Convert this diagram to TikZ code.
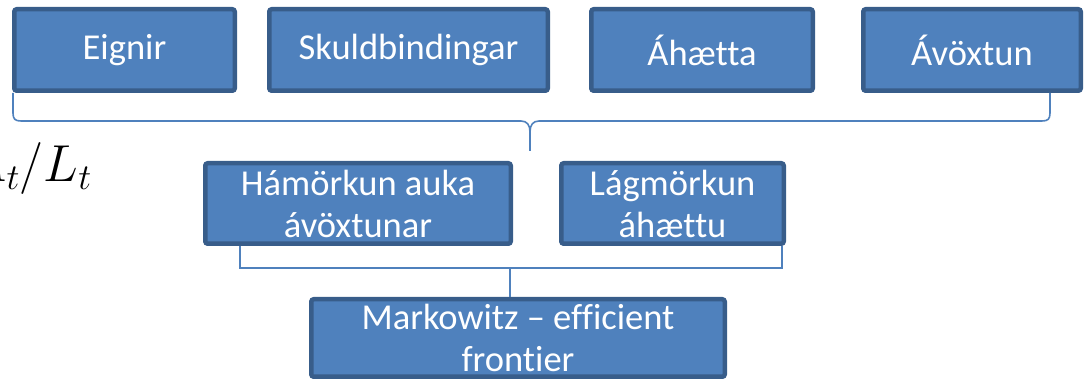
\RequirePackage{fix-cm}
\documentclass[tikz,border=0pt]{standalone}
\usepackage{fontspec}
\setmainfont[Ligatures=NoCommon]{Carlito}
\usepackage{tikz}
\usetikzlibrary{positioning}
\usetikzlibrary{calc}
\usepackage{amsmath}
\definecolor{boxfill}{RGB}{79,129,189}
\definecolor{boxline}{RGB}{56,93,138}

\tikzset{
  goalbox/.style={draw=boxline, fill=boxfill, line width=4.5pt, rounded corners=2.5pt,
    text=white, inner sep=0pt, align=center,
    font=\fontsize{36.5}{42}\selectfont},
  bracket/.style={draw=boxfill, line width=1.6pt}
}

\begin{document}
\begin{tikzpicture}[x=1pt,y=1pt]

\useasboundingbox (0,0) rectangle (1086,382);
\clip (0,0) rectangle (1086,382);

% Rows
\def\Ytop{332}
\def\Ymid{178.5}
\def\Ybot{44}

%---------------------------------------
% Top row: balance sheet and measures
%---------------------------------------
\node[goalbox, minimum width=220.5pt, minimum height=81.5pt] (eignir) at (124.5,\Ytop) {Eignir};
\node[goalbox, minimum width=278.5pt, minimum height=81.5pt] (skuld)  at (408.5,\Ytop) {Skuldbindingar};
\node[goalbox, minimum width=221.5pt, minimum height=81.5pt] (haetta) at (702,\Ytop)   {Áhætta};
\node[goalbox, minimum width=217.5pt, minimum height=81.5pt] (avoxt)  at (972,\Ytop)   {Ávöxtun};

% Ratio (cut by the left edge)
\node[anchor=base east, inner sep=0pt, font=\fontsize{52}{60}\selectfont] (ratio) at (92,200) {$A_t/L_t$};

%---------------------------------------
% Middle row: objectives
%---------------------------------------
\node[goalbox, minimum width=305.5pt, minimum height=80.5pt] (hamork) at (358,\Ymid)   {Hámörkun auka\\ávöxtunar};
\node[goalbox, minimum width=222.5pt, minimum height=80.5pt] (lagmork) at (672.5,\Ymid) {Lágmörkun\\áhættu};

%---------------------------------------
% Bottom row: result
%---------------------------------------
\node[goalbox, minimum width=413.5pt, minimum height=77.5pt] (markow) at (518,\Ybot) {Markowitz – efficient\\frontier};

% Brace under the top row
\coordinate (braceL)   at (13,289);
\coordinate (braceR)   at (1050,289);
\coordinate (braceTip) at (530,231);

\draw[bracket] (braceL) -- (13,269) .. controls (13,263) and (15,261) .. (21,261)
  -- (521,261) .. controls (527,261) and (530,257) .. (530,250) -- (braceTip);
\draw[bracket] (braceTip) -- (530,250) .. controls (530,257) and (533,261) .. (539,261)
  -- (1042,261) .. controls (1048,261) and (1050,263) .. (1050,269) -- (braceR);

% Bracket joining the objectives
\coordinate (hamFoot)  at (240,136);
\coordinate (lagFoot)  at (782,136);
\coordinate (joinMid)  at (510,114);

\draw[bracket] (hamFoot) |- (lagFoot |- joinMid) -- (lagFoot);
\draw[bracket] (joinMid) -- (joinMid |- markow.north);

\end{tikzpicture}
\end{document}
